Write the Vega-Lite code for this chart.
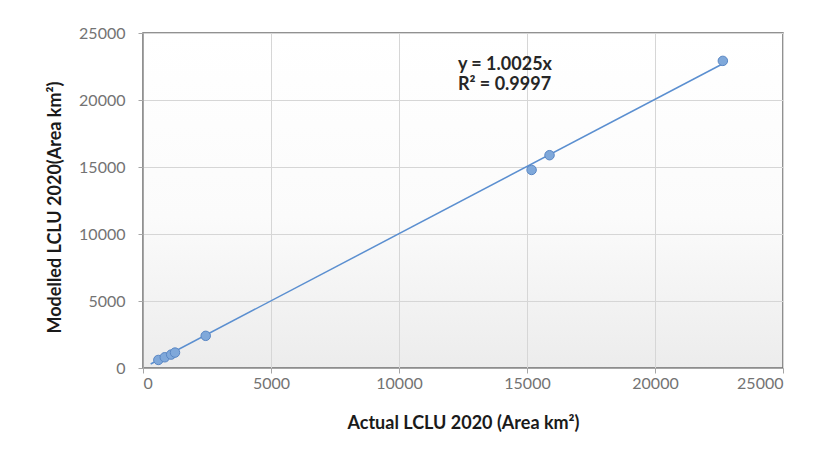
{
  "$schema": "https://vega.github.io/schema/vega-lite/v6.json",
  "width": 640,
  "height": 335,
  "autosize": {"type": "none"},
  "padding": {"left": 143, "top": 33, "right": 38, "bottom": 85},
  "background": "white",
  "config": {
    "font": "Lato",
    "view": {
      "stroke": "#6e6e6e",
      "strokeWidth": 1.5,
      "fill": {
        "gradient": "linear", "x1": 0, "y1": 0, "x2": 0, "y2": 1,
        "stops": [{"offset": 0, "color": "#ffffff"}, {"offset": 0.55, "color": "#fbfbfb"}, {"offset": 1, "color": "#ececec"}]
      }
    },
    "axis": {
      "grid": true,
      "gridColor": "#d6d6d6",
      "gridWidth": 1,
      "domainColor": "#a6a6a6",
      "tickColor": "#a6a6a6",
      "tickSize": 5,
      "labelColor": "#737373",
      "labelFontSize": 16,
      "titleFontSize": 18,
      "titleFontWeight": "bold",
      "titleColor": "#1a1a1a"
    }
  },
  "datasets": {
    "pts": [
      {"actual": 600, "modelled": 600},
      {"actual": 850, "modelled": 800},
      {"actual": 1100, "modelled": 1000},
      {"actual": 1250, "modelled": 1150},
      {"actual": 2450, "modelled": 2400},
      {"actual": 15180, "modelled": 14780},
      {"actual": 15880, "modelled": 15880},
      {"actual": 22650, "modelled": 22920}
    ],
    "trend": [
      {"actual": 300, "modelled": 300.75},
      {"actual": 22650, "modelled": 22706.6}
    ],
    "eq": [
      {"actual": 12300, "modelled": 22600, "label": "y = 1.0025x"},
      {"actual": 12300, "modelled": 21100, "label": "R² = 0.9997"}
    ]
  },
  "layer": [
    {
      "data": {"name": "trend"},
      "mark": {"type": "line", "color": "#5b8fd0", "strokeWidth": 1.5},
      "encoding": {
        "x": {"field": "actual", "type": "quantitative", "scale": {"domain": [0, 25000], "nice": false},
              "axis": {"values": [0, 5000, 10000, 15000, 20000, 25000], "format": "d", "title": "Actual LCLU 2020 (Area km²)", "labelPadding": 2, "titleBaseline": "middle", "titleY": 55}},
        "y": {"field": "modelled", "type": "quantitative", "scale": {"domain": [0, 25000], "nice": false},
              "axis": {"values": [0, 5000, 10000, 15000, 20000, 25000], "format": "d", "title": "Modelled LCLU 2020(Area km²)", "labelPadding": 13, "titleX": -88, "titleY": 174, "titleBaseline": "middle"}}
      }
    },
    {
      "data": {"name": "pts"},
      "mark": {"type": "point", "filled": true, "size": 90, "color": "#7fa8da", "stroke": "#5a87c4", "strokeWidth": 1, "opacity": 1},
      "encoding": {
        "x": {"field": "actual", "type": "quantitative"},
        "y": {"field": "modelled", "type": "quantitative"}
      }
    },
    {
      "data": {"name": "eq"},
      "mark": {"type": "text", "align": "left", "baseline": "middle", "fontSize": 18, "fontWeight": "bold", "color": "#262626"},
      "encoding": {
        "x": {"field": "actual", "type": "quantitative"},
        "y": {"field": "modelled", "type": "quantitative"},
        "text": {"field": "label"}
      }
    }
  ]
}
